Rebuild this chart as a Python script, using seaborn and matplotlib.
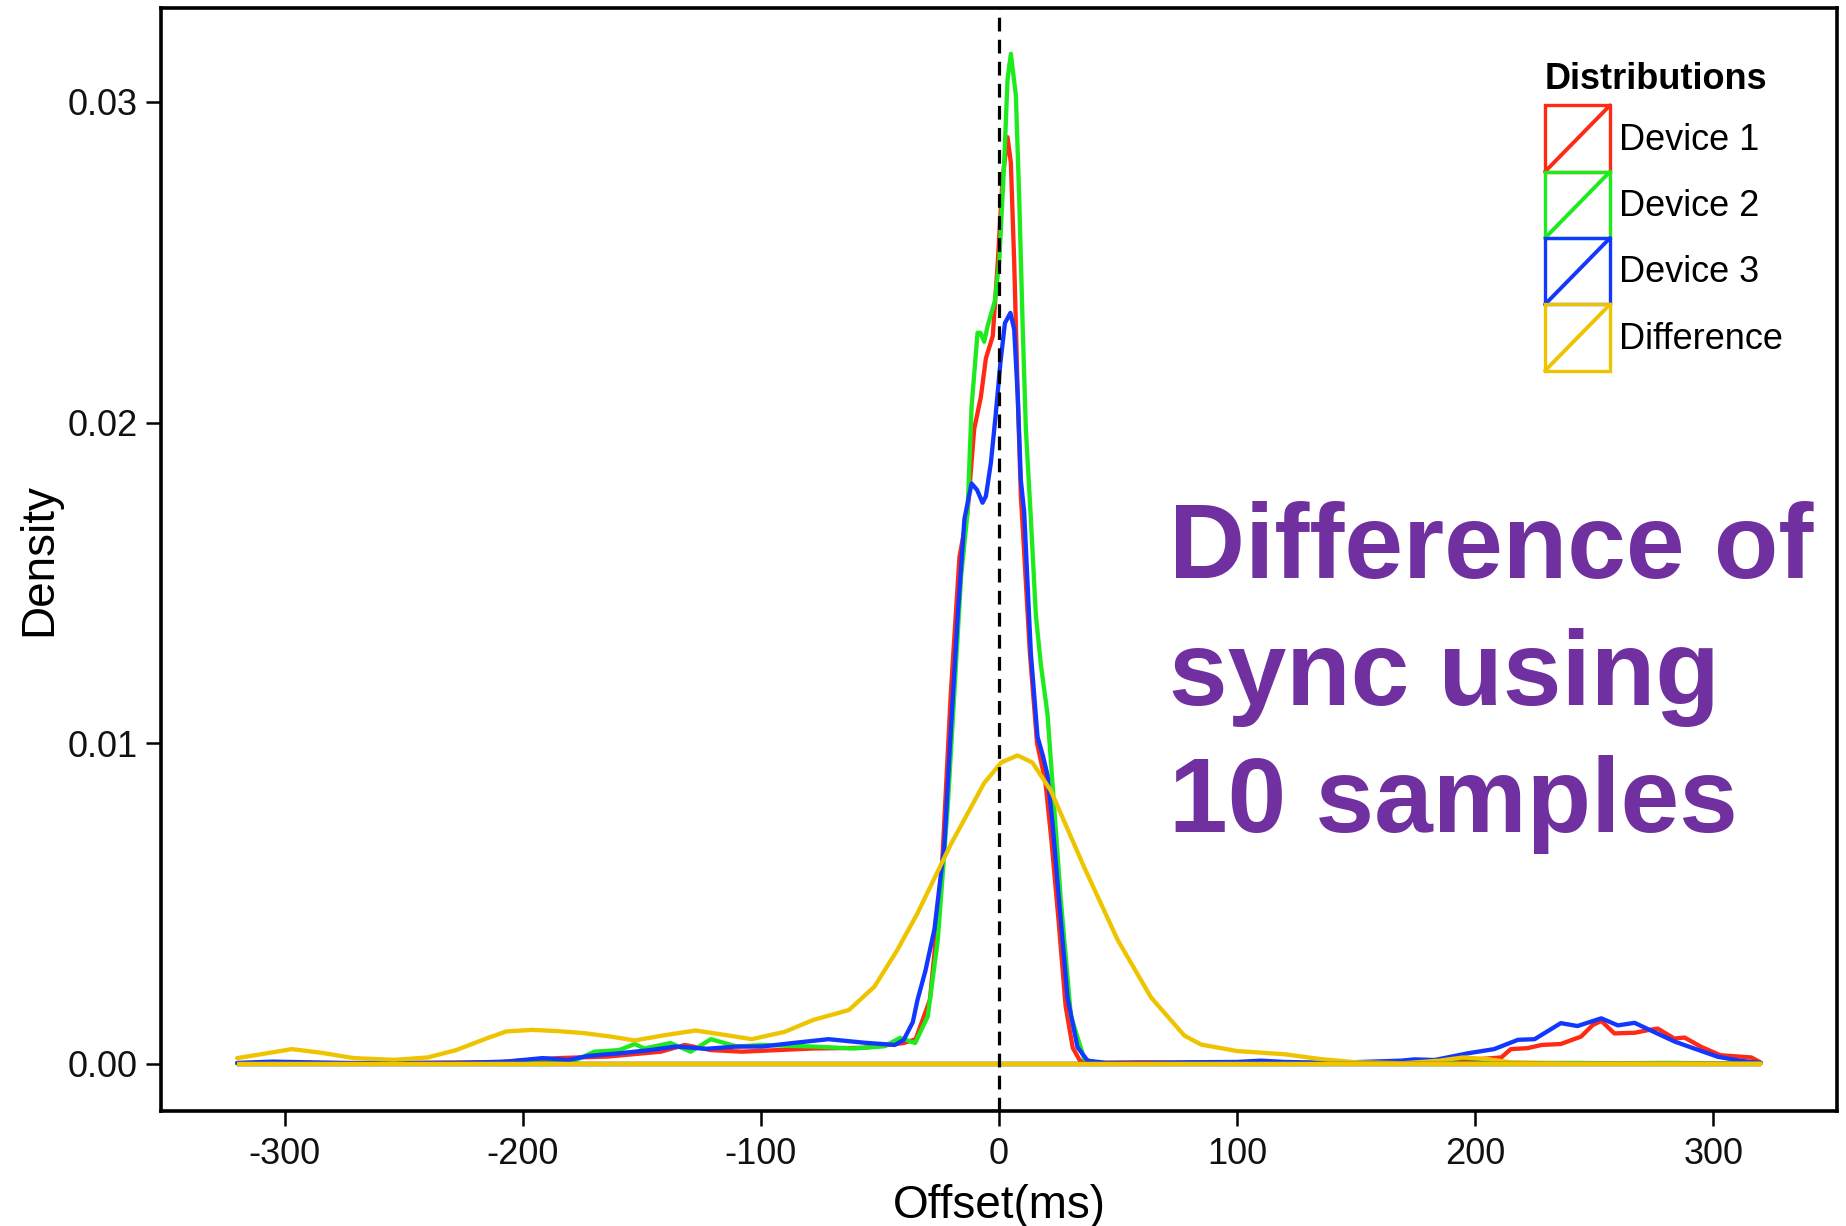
import matplotlib
matplotlib.use("Agg")
import matplotlib.pyplot as plt
import pandas as pd
import seaborn as sns
from matplotlib.legend_handler import HandlerBase
from matplotlib.lines import Line2D
from matplotlib.patches import Patch, Rectangle

# ----------------- data (offset in ms, density) -----------------
dev1_x = [-320, -250, -211, -185, -164, -142, -132, -121, -108, -93, -78, -57, -40, -35, -29,
          -24.3, -20.2, -16.6, -13.2, -10.4, -7.6, -5.5, -2.6, -0.5, 1.5, 3.6, 5.0, 6.4, 7.9,
          9.2, 10, 13, 16, 19.5, 22, 25, 28, 31, 34, 40, 60, 80, 100, 120, 140, 160, 180, 197,
          211, 215, 222, 228, 236, 244.5, 249.4, 253, 258.5, 267, 272.5, 276.7, 283.7, 288,
          295, 303, 316, 320]
dev1_y = [0.00002, 0.00003, 0.00005, 0.00018, 0.00023, 0.00038, 0.00059, 0.00043, 0.00038,
          0.00043, 0.00048, 0.0005, 0.00065, 0.00077, 0.002, 0.0056, 0.0116, 0.0158, 0.0172,
          0.0198, 0.0208, 0.0220, 0.0227, 0.0250, 0.0276, 0.0289, 0.0281, 0.0250, 0.0208,
          0.0177, 0.0167, 0.0128, 0.0100, 0.0088, 0.0070, 0.0045, 0.0018, 0.0005, 0.0001,
          0.00003, 0.00005, 0.00003, 0.00005, 0.00003, 0.00003, 0.00005, 0.00008, 0.00012,
          0.0002, 0.00046, 0.00049, 0.00059, 0.00062, 0.00085, 0.00121, 0.00134, 0.00095,
          0.00097, 0.00105, 0.0011, 0.00079, 0.00082, 0.00053, 0.00027, 0.0002, 0.00004]

dev2_x = [-320, -250, -200, -180, -170, -159.5, -153, -149, -138, -129.5, -121, -110, -99.5,
          -78, -61, -48, -41.6, -35.2, -29.9, -25.7, -21.5, -18.7, -15.9, -13.2, -11.5, -9.0,
          -7.8, -6.2, -4.8, -1.7, 0.1, 2.2, 3.6, 5.0, 7.1, 8.5, 10.0, 11.3, 13.4, 15.5, 17.6,
          20.4, 23.2, 26, 30.2, 35.8, 40, 80, 120, 160, 200, 240, 260, 280, 320]
dev2_y = [0.00001, 0.00001, 0.00002, 0.00004, 0.00038, 0.00043, 0.00062, 0.00048, 0.00065,
          0.00038, 0.00077, 0.00054, 0.00059, 0.00054, 0.00048, 0.00055, 0.00081, 0.00065,
          0.00148, 0.00386, 0.00804, 0.01162, 0.0152, 0.0172, 0.0205, 0.0228, 0.0228, 0.02252,
          0.0230, 0.0238, 0.0250, 0.0281, 0.0307, 0.0315, 0.0302, 0.0270, 0.0229, 0.0198,
          0.0170, 0.0140, 0.01245, 0.0109, 0.0080, 0.0051, 0.0015, 0.00016, 0.00002, 0.00002,
          0.00002, 0.00002, 0.00002, 0.00003, 0.00002, 0.00003, 0.00001]

dev3_x = [-320, -305, -270, -228, -207, -191.7, -181, -172.4, -159.5, -146.6, -135.9, -123,
          -110.2, -99.5, -86.6, -71.6, -56.6, -43.7, -40, -36.2, -34.2, -30.9, -27.1, -22.9,
          -20.2, -17.3, -14.5, -11.5, -9.2, -6.9, -5.5, -3.4, -1.3, 0.6, 2.5, 4.8, 6.4, 7.9,
          9.2, 10.6, 13.4, 16.2, 18.5, 20.4, 22.5, 24.6, 28.8, 33, 37.2, 45, 60, 80, 100, 110,
          120, 140, 169, 174.5, 183, 197, 208, 218, 225, 236, 243, 253, 260, 267, 275, 284,
          292, 302, 312, 320]
dev3_y = [0.00003, 0.00007, 0.00002, 0.00003, 0.00007, 0.00018, 0.00012, 0.00025, 0.00033,
          0.00043, 0.00054, 0.00047, 0.00054, 0.00054, 0.00065, 0.00077, 0.00066, 0.00059,
          0.00075, 0.0013, 0.0020, 0.0029, 0.0042, 0.00685, 0.01043, 0.0140, 0.0170, 0.0181,
          0.0179, 0.0175, 0.0177, 0.01874, 0.0203, 0.02186, 0.0231, 0.02342, 0.0229, 0.0208,
          0.0182, 0.0172, 0.0128, 0.0102, 0.0096, 0.0090, 0.0075, 0.00565, 0.00207, 0.00052,
          0.0001, 0.00003, 0.00003, 0.00005, 0.00006, 0.0001, 0.00006, 0.00003, 0.0001,
          0.00014, 0.00012, 0.00033, 0.00046, 0.00075, 0.00077, 0.00127, 0.00118, 0.00142,
          0.0012, 0.00128, 0.001, 0.00069, 0.00048, 0.00022, 0.00009, 0.00003]

diff_x = [-320, -310, -297, -285, -271, -254, -240, -228, -215, -207, -196, -185, -174.5, -163,
          -153, -140, -127.4, -115, -103.8, -90, -78, -63, -52.3, -42.7, -34.2, -20.2, -6.2, 1,
          7.8, 14, 21.8, 35.8, 49.9, 63.9, 77.9, 85, 100, 120, 135, 150, 170, 185, 195, 205,
          215, 240, 280, 320]
diff_y = [0.00018, 0.0003, 0.00046, 0.00035, 0.00018, 0.000125, 0.0002, 0.00043, 0.0008,
          0.00101, 0.00106, 0.00102, 0.00096, 0.00085, 0.00073, 0.0009, 0.00104, 0.0009,
          0.00077, 0.0010, 0.00137, 0.00168, 0.00241, 0.00355, 0.0047, 0.00685, 0.00876,
          0.0094, 0.00962, 0.0094, 0.00852, 0.00613, 0.00386, 0.00207, 0.00088, 0.0006,
          0.0004, 0.0003, 0.00015, 0.00005, 0.00002, 0.0001, 0.0002, 0.00015, 0.00005,
          0.00001, 0.00001, 0.00001]

group_names = ['Device 1', 'Device 2', 'Device 3', 'Difference']
group_colors = ['#FF2A14', '#1EEB1E', '#1238FF', '#EEC400']
x_ticks = [-300, -200, -100, 0, 100, 200, 300]
y_ticks = [0.00, 0.01, 0.02, 0.03]
note_text = 'Difference of\nsync using\n10 samples'


# legend key: outlined box with a slash, like the ggplot density key
class HandlerSlashBox(HandlerBase):
    def create_artists(self, legend, orig_handle, xdescent, ydescent, width, height, fontsize, trans):
        col = orig_handle.get_edgecolor()
        box = Rectangle((-xdescent, -ydescent), width, height, fill=False,
                        edgecolor=col, lw=2.4, transform=trans)
        slash = Line2D([-xdescent, -xdescent + width], [-ydescent, -ydescent + height],
                       color=col, lw=2.8, transform=trans)
        return [box, slash]


# ------------------- long table for seaborn -------------------
frames = []
all_x = [dev1_x, dev2_x, dev3_x, diff_x]
all_y = [dev1_y, dev2_y, dev3_y, diff_y]
for name, xs, ys in zip(group_names, all_x, all_y):
    frames.append(pd.DataFrame({'Offset': xs, 'Density': ys, 'Distribution': name}))
df = pd.concat(frames, ignore_index=True)
palette = dict(zip(group_names, group_colors))

sns.set_style('ticks')
plt.rcParams['font.family'] = ['Liberation Sans', 'DejaVu Sans']
plt.rcParams['text.color'] = 'black'
plt.rcParams['axes.labelcolor'] = 'black'

fig = plt.figure(figsize=(18.46, 12.26), dpi=100)
ax = fig.add_axes([0.0872, 0.0938, 0.9079, 0.8997])

sns.lineplot(data=df, x='Offset', y='Density', hue='Distribution', hue_order=group_names,
             palette=palette, estimator=None, sort=False, lw=3.1, legend=False, ax=ax)

# closing baseline of each density polygon
for name, xs in zip(group_names, all_x):
    ax.plot([min(xs), max(xs)], [0, 0], color=palette[name], lw=3.1, solid_capstyle='butt')

ax.axvline(0, color='black', lw=2.3, ls=(0, (4.3, 2.6)), zorder=5)

ax.set_xlim(-352, 352)
ax.set_ylim(-0.00147, 0.03293)
ax.set_xticks(x_ticks)
ax.set_xticklabels([str(t) for t in x_ticks])
ax.set_yticks(y_ticks)
ax.set_yticklabels(['%.2f' % t for t in y_ticks])
ax.tick_params(axis='both', length=10.5, width=1.8, color='black', labelsize=26,
               labelcolor='#111111')
ax.tick_params(axis='x', pad=8)
ax.tick_params(axis='y', pad=6)
ax.set_xlabel('Offset(ms)', fontsize=33, labelpad=9)
ax.set_ylabel('Density', fontsize=33, labelpad=5)
for side in ['left', 'right', 'top', 'bottom']:
    ax.spines[side].set_visible(True)
    ax.spines[side].set_color('black')
    ax.spines[side].set_linewidth(2.6)

# va='baseline' on multi-line text sits the last line on y
ax.text(0.6014, 0.2532, note_text, transform=ax.transAxes, fontsize=76, fontweight='bold',
        color='#7030A0', ha='left', va='baseline', linespacing=1.36)

handles = [Patch(edgecolor=c, facecolor='none', label=n) for n, c in zip(group_names, group_colors)]
leg = ax.legend(handles=handles, handler_map={Patch: HandlerSlashBox()}, title='Distributions',
                loc='upper left', bbox_to_anchor=(1545 / 1846, 1 - 62 / 1226),
                bbox_transform=fig.transFigure, frameon=False, fontsize=26,
                title_fontproperties={'weight': 'bold', 'size': 26}, alignment='left',
                handlelength=1.8, handleheight=2.45, labelspacing=0, handletextpad=0.25,
                borderpad=0, borderaxespad=0)
# a little air between the title and the first key
leg._legend_box.sep = 6

fig.savefig('out.png', dpi=100)
plt.close(fig)
